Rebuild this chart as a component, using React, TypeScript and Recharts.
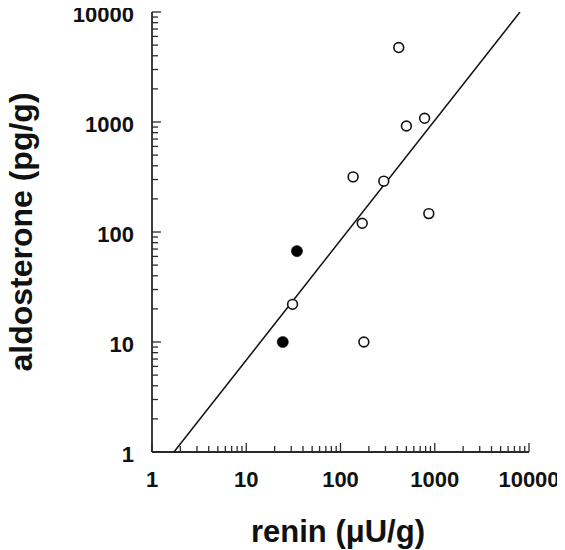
import React from 'react';
import { ScatterChart, Scatter, XAxis, YAxis } from 'recharts';

const openPoints = [
  { x: 415, y: 4750 },
  { x: 780, y: 1080 },
  { x: 500, y: 920 },
  { x: 136, y: 317 },
  { x: 288, y: 290 },
  { x: 170, y: 120 },
  { x: 865, y: 147 },
  { x: 31, y: 22 },
  { x: 177, y: 10 },
];

const filledPoints = [
  { x: 34.5, y: 67 },
  { x: 24.4, y: 10 },
];

const fitLine = [
  { x: 1.71, y: 1 },
  { x: 8020, y: 10000 },
];

const majorTicks = [1, 10, 100, 1000, 10000];

const allTicks = [
  1, 2, 3, 4, 5, 6, 7, 8, 9,
  10, 20, 30, 40, 50, 60, 70, 80, 90,
  100, 200, 300, 400, 500, 600, 700, 800, 900,
  1000, 2000, 3000, 4000, 5000, 6000, 7000, 8000, 9000,
  10000,
];

const FONT = '"Liberation Sans", Arial, Helvetica, sans-serif';
const AXIS_COLOR = '#2a2a2a';

const isMajor = (v: number) => majorTicks.some((m) => Math.abs(m - v) < 1e-6);

const XTick = (props: any) => {
  const { x, y, payload } = props;
  const v = payload.value;
  const major = isMajor(v);
  return (
    <g>
      <line x1={x} x2={x} y1={y} y2={y - (major ? 9 : 6)} stroke={AXIS_COLOR} strokeWidth={1.3} />
      {major && (
        <text x={x} y={y + 35} textAnchor="middle" fontSize={22} fontWeight="bold" fontFamily={FONT} fill="#111">
          {v}
        </text>
      )}
    </g>
  );
};

const YTick = (props: any) => {
  const { x, y, payload } = props;
  const v = payload.value;
  const major = isMajor(v);
  return (
    <g>
      <line x1={x} x2={x + (major ? 9 : 6)} y1={y} y2={y} stroke={AXIS_COLOR} strokeWidth={1.3} />
      {major && (
        <text x={x - 18} y={y + 10} textAnchor="end" fontSize={22} fontWeight="bold" fontFamily={FONT} fill="#111">
          {v}
        </text>
      )}
    </g>
  );
};

const OpenDot = (props: any) => {
  const { cx, cy } = props;
  return <circle cx={cx} cy={cy} r={4.9} fill="#fff" stroke="#111" strokeWidth={1.6} />;
};

const FilledDot = (props: any) => {
  const { cx, cy } = props;
  return <circle cx={cx} cy={cy} r={5.6} fill="#000" stroke="#000" strokeWidth={0.5} />;
};

const NoDot = () => <g />;

const XTitle = () => (
  <text x={338} y={542} textAnchor="middle" fontSize={31} fontWeight="bold" fontFamily={FONT} fill="#111">
    renin (μU/g)
  </text>
);

const YTitle = () => (
  <text
    x={32}
    y={232}
    transform="rotate(-90, 32, 232)"
    textAnchor="middle"
    fontSize={32}
    fontWeight="bold"
    fontFamily={FONT}
    fill="#111"
  >
    aldosterone (pg/g)
  </text>
);

export default function App() {
  return (
    <div style={{ width: 565, height: 550, background: '#fff', margin: '-8px 0 0 -8px' }}>
      <ScatterChart width={565} height={550} margin={{ top: 12, right: 36, bottom: 0, left: 0 }}>
        <XAxis
          type="number"
          dataKey="x"
          scale="log"
          domain={[1, 10000]}
          allowDataOverflow
          ticks={allTicks}
          interval={0}
          tickSize={0}
          tickMargin={0}
          tick={<XTick />}
          axisLine={{ stroke: AXIS_COLOR, strokeWidth: 1.8 }}
          tickLine={false}
          height={98}
          label={<XTitle />}
        />
        <YAxis
          type="number"
          dataKey="y"
          scale="log"
          domain={[1, 10000]}
          allowDataOverflow
          ticks={allTicks}
          interval={0}
          tickSize={0}
          tickMargin={0}
          tick={<YTick />}
          axisLine={{ stroke: AXIS_COLOR, strokeWidth: 1.8 }}
          tickLine={false}
          width={152}
          label={<YTitle />}
        />
        <Scatter
          data={fitLine}
          line={{ stroke: '#111', strokeWidth: 1.5 }}
          shape={<NoDot />}
          isAnimationActive={false}
        />
        <Scatter data={openPoints} shape={<OpenDot />} isAnimationActive={false} />
        <Scatter data={filledPoints} shape={<FilledDot />} isAnimationActive={false} />
      </ScatterChart>
    </div>
  );
}
